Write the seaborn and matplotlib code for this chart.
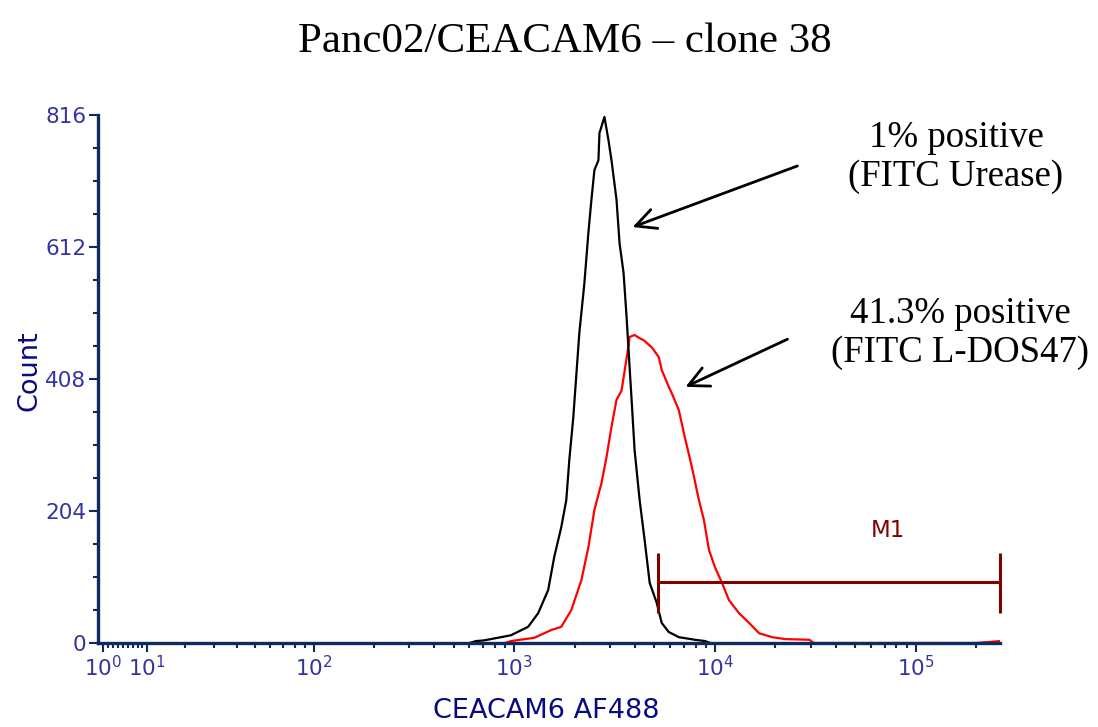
import numpy as np
import pandas as pd
import seaborn as sns
import matplotlib.pyplot as plt
from matplotlib.ticker import FixedLocator

sns.set_style("ticks")
plt.rcParams['font.family'] = ['DejaVu Sans']
plt.rcParams['mathtext.default'] = 'regular'

# histograms (fluorescence intensity, event count)
urease_x = [600, 646, 708, 861, 966, 1175, 1318, 1479, 1585, 1718, 1820, 1884, 1972,
            2113, 2239, 2344, 2427, 2512, 2630, 2661, 2818, 2951, 3055, 3236, 3350,
            3508, 3631, 3758, 3846, 3981, 4217, 4467, 4732, 5129, 5433, 5888, 6607,
            7943, 8913, 9500]
urease_count = [0, 3, 4, 9, 12, 25, 46, 82, 133, 179, 221, 283, 349,
                479, 556, 634, 685, 731, 746, 788, 813, 777, 746, 685, 618,
                572, 504, 427, 376, 298, 221, 159, 93, 62, 31, 17, 9,
                5, 3, 0]

ldos_x = [900, 966, 1259, 1531, 1718, 1928, 2163, 2344, 2512, 2723, 2884, 3055, 3236,
          3428, 3590, 3720, 3758, 3981, 4217, 4416, 4842, 5248, 5433, 5888, 6095,
          6607, 7079, 7674, 8318, 8810, 9333, 10000, 10839, 11749, 13183, 14791,
          16596, 19275, 22387, 29512, 31000, 200000, 262143]
ldos_count = [0, 3, 8, 20, 25, 51, 97, 148, 206, 247, 287, 334, 376,
              390, 430, 461, 473, 476, 471, 468, 457, 442, 422, 396, 386,
              360, 318, 272, 221, 190, 144, 117, 93, 66, 46, 31,
              15, 9, 6, 5, 0, 0, 3]

x_ticks = [1, 10, 100, 1000, 10000, 100000]
x_tick_labels = ['$10^{0}$', '$10^{1}$', '$10^{2}$', '$10^{3}$', '$10^{4}$', '$10^{5}$']
x_minor = [k * 10 ** e for e in range(0, 5) for k in range(2, 10)] + [200000]
y_ticks = [0, 204, 408, 612, 816]
y_minor = [51, 102, 153, 255, 306, 357, 459, 510, 561, 663, 714, 765]

m1_range = [5190, 262143]
m1_level = 94

spine_c = '#0d2b5e'
tick_c = '#3434a0'
label_c = '#0a0a80'
m1_c = '#800000'

fig = plt.figure(figsize=(10.98, 7.27), dpi=100)
ax = fig.add_axes([98 / 1098, 84 / 727, 902 / 1098, 528 / 727])

sns.lineplot(x=ldos_x, y=ldos_count, color='red', lw=1.6, ax=ax,
             estimator=None, sort=False)
sns.lineplot(x=urease_x, y=urease_count, color='black', lw=1.6, ax=ax,
             estimator=None, sort=False)

ax.set_xscale('asinh', linear_width=17)
ax.set_xlim(0, 262143)
ax.set_ylim(0, 816)

ax.set_xticks(x_ticks)
ax.set_xticklabels(x_tick_labels)
ax.xaxis.set_minor_locator(FixedLocator(x_minor))
ax.set_yticks(y_ticks)
ax.set_yticklabels([str(v) for v in y_ticks])
ax.yaxis.set_minor_locator(FixedLocator(y_minor))

sns.despine(ax=ax)
for s in ['left', 'bottom']:
    ax.spines[s].set_color(spine_c)
    ax.spines[s].set_linewidth(2.4)

ax.tick_params(which='major', direction='out', color=spine_c, width=1.5,
               length=6.5, labelcolor=tick_c, labelsize=15.5, pad=2)
ax.tick_params(which='minor', direction='out', color=spine_c, width=1.5, length=3.8)

ax.set_xlabel('CEACAM6 AF488', color=label_c, fontsize=19.5)
ax.set_ylabel('Count', color=label_c, fontsize=19.5)
ax.xaxis.set_label_coords(0.497, -0.105)
ax.yaxis.set_label_coords(-0.062, 0.515)

# M1 gate
ax.hlines(m1_level, m1_range[0], m1_range[1], color=m1_c, lw=2.2, clip_on=False)
ax.vlines(m1_range, 46, 139, color=m1_c, lw=2.2, clip_on=False)
ax.text(72700, 174, 'M1', color=m1_c, ha='center', va='center', fontsize=16.5)

fig.text(565 / 1098, 685 / 727, 'Panc02/CEACAM6 \u2013 clone 38', ha='center', va='center',
         family='Liberation Serif', fontsize=31, color='black')
fig.text(956 / 1098, 570 / 727, '1% positive\n(FITC Urease)', ha='center', va='center',
         family='Liberation Serif', fontsize=26.5, linespacing=1.15, color='black')
fig.text(960 / 1098, 394 / 727, '41.3% positive\n(FITC L-DOS47)', ha='center', va='center',
         family='Liberation Serif', fontsize=26.5, linespacing=1.15, color='black')

arrow = dict(arrowstyle='->', lw=2, color='black', mutation_scale=36)
ax.annotate('', xy=(630, 499), xytext=(800, 562), xycoords='figure pixels',
            textcoords='figure pixels', arrowprops=arrow)
ax.annotate('', xy=(683, 339), xytext=(790, 389), xycoords='figure pixels',
            textcoords='figure pixels', arrowprops=arrow)

fig.savefig('out.png', dpi=100)
